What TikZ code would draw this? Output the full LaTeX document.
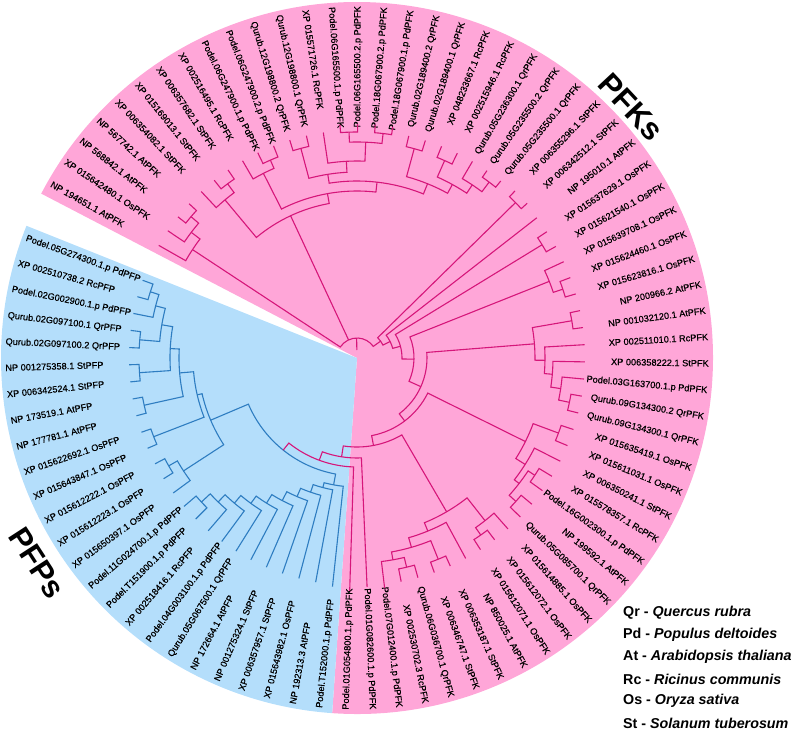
\documentclass[tikz,border=0pt]{standalone}
\usepackage{fontspec}
\setmainfont{Liberation Sans}
\newfontfamily\labfont{Liberation Sans}[FakeBold=0.5]
\definecolor{pkfill}{RGB}{255,166,216}
\definecolor{blfill}{RGB}{180,222,251}
\definecolor{pkline}{RGB}{214,22,122}
\definecolor{blline}{RGB}{46,125,193}
\tikzset{
 lab/.style={font=\labfont\fontsize{9.2}{10}\selectfont, inner sep=0pt, text=black},
 pk/.style={draw=pkline, line width=1.1pt},
 bl/.style={draw=blline, line width=1.1pt},
 leg/.style={font=\fontsize{14.3}{16}\selectfont\bfseries, anchor=west, inner sep=0pt},
 big/.style={font=\fontsize{31}{34}\selectfont\bfseries, inner sep=0pt}
}
\newcommand\lf[4]{%
  \pgfmathsetmacro\tzla{150.4-(#2-1)*4.325}%
  \expandafter\xdef\csname TA#1\endcsname{\tzla}%
  \expandafter\xdef\csname TR#1\endcsname{#3}%
  \ifdim\tzla pt<90pt
    \ifdim\tzla pt>-90pt
      \node[lab,rotate=\tzla,anchor=mid east] (#1) at (\tzla:352pt) {#4};
    \else
      \pgfmathsetmacro\tzlb{\tzla+180}%
      \node[lab,rotate=\tzlb,anchor=mid west] (#1) at (\tzla:352pt) {#4};
    \fi
  \else
    \pgfmathsetmacro\tzlb{\tzla+180}%
    \node[lab,rotate=\tzlb,anchor=mid west] (#1) at (\tzla:352pt) {#4};
  \fi
}
\newcommand\nd[5][pk]{%
  \edef\tzA{\csname TA#4\endcsname}\edef\tzB{\csname TA#5\endcsname}%
  \edef\tzRa{\csname TR#4\endcsname}\edef\tzRb{\csname TR#5\endcsname}%
  \pgfmathsetmacro\tzM{(\tzA+\tzB)/2}%
  \expandafter\xdef\csname TA#2\endcsname{\tzM}%
  \expandafter\xdef\csname TR#2\endcsname{#3}%
  \draw[#1] (\tzA:\tzRa pt) -- (\tzA:#3pt) arc[start angle=\tzA, end angle=\tzB, radius=#3pt] -- (\tzB:\tzRb pt);
}
\newcommand\mc[3][pk]{%
  \edef\tzA{\csname TA#3\endcsname}\edef\tzRa{\csname TR#3\endcsname}%
  \draw[#1] (\tzA:#2pt) -- (\tzA:\tzRa pt);
}
\begin{document}
\begin{tikzpicture}[x=1pt,y=1pt]
\useasboundingbox (-357,-374) rectangle (439,358);
\fill[pkfill] (0,0) -- (-94:356pt) arc[start angle=-94, end angle=152.5, radius=356pt] -- cycle;
\fill[blfill] (0,0) -- (158.2:356pt) arc[start angle=158.2, end angle=266, radius=356pt] -- cycle;
% leaves
\lf{L1}{1}{228}{NP 194651.1 AtPFK}
\lf{L2}{2}{228}{XP 015642480.1 OsPFK}
\lf{L3}{3}{228}{NP 568842.1 AtPFK}
\lf{L4}{4}{228}{NP 567742.1 AtPFK}
\lf{L5}{5}{228}{XP 006354082.1 StPFK}
\lf{L6}{6}{228}{XP 015169013.1 StPFK}
\lf{L7}{7}{228}{XP 006357682.1 StPFK}
\lf{L8}{8}{228}{XP 002516495.1 RcPFK}
\lf{L9}{9}{228}{Podel.06G247900.1.p PdPFK}
\lf{L10}{10}{228}{Podel.06G247900.2.p PdPFK}
\lf{L11}{11}{228}{Qurub.12G198800.2 QrPFK}
\lf{L12}{12}{228}{Qurub.12G198800.1 QrPFK}
\lf{L13}{13}{228}{XP 015571726.1 RcPFK}
\lf{L14}{14}{234}{Podel.06G165500.1.p PdPFK}
\lf{L15}{15}{234}{Podel.06G165500.2.p PdPFK}
\lf{L16}{16}{234}{Podel.18G067900.2.p PdPFK}
\lf{L17}{17}{234}{Podel.18G067900.1.p PdPFK}
\lf{L18}{18}{228}{Qurub.02G189400.2 QrPFK}
\lf{L19}{19}{228}{Qurub.02G189400.1 QrPFK}
\lf{L20}{20}{228}{XP 048233667.1 RcPFK}
\lf{L21}{21}{228}{XP 002515946.1 RcPFK}
\lf{L22}{22}{228}{Qurub.05G236300.1 QrPFK}
\lf{L23}{23}{228}{Qurub.05G235500.2 QrPFK}
\lf{L24}{24}{228}{Qurub.05G235500.1 QrPFK}
\lf{L25}{25}{230}{XP 006355296.1 StPFK}
\lf{L26}{26}{230}{XP 006342512.1 StPFK}
\lf{L27}{27}{228}{NP 195010.1 AtPFK}
\lf{L28}{28}{228}{XP 015637629.1 OsPFK}
\lf{L29}{29}{228}{XP 015621540.1 OsPFK}
\lf{L30}{30}{228}{XP 015639708.1 OsPFK}
\lf{L31}{31}{228}{XP 015624460.1 OsPFK}
\lf{L32}{32}{228}{XP 015623816.1 OsPFK}
\lf{L33}{33}{228}{NP 200966.2 AtPFK}
\lf{L34}{34}{228}{NP 001032120.1 AtPFK}
\lf{L35}{35}{228}{XP 002511010.1 RcPFK}
\lf{L36}{36}{228}{XP 006358222.1 StPFK}
\lf{L37}{37}{228}{Podel.03G163700.1.p PdPFK}
\lf{L38}{38}{228}{Qurub.09G134300.2 QrPFK}
\lf{L39}{39}{228}{Qurub.09G134300.1 QrPFK}
\lf{L40}{40}{228}{XP 015635419.1 OsPFK}
\lf{L41}{41}{228}{XP 015611031.1 OsPFK}
\lf{L42}{42}{228}{XP 006350241.1 StPFK}
\lf{L43}{43}{228}{XP 015578357.1 RcPFK}
\lf{L44}{44}{228}{Podel.16G002300.1.p PdPFK}
\lf{L45}{45}{228}{NP 199592.1 AtPFK}
\lf{L46}{46}{228}{Qurub.05G085700.1 QrPFK}
\lf{L47}{47}{228}{XP 015614885.1 OsPFK}
\lf{L48}{48}{228}{XP 015612072.1 OsPFK}
\lf{L49}{49}{228}{XP 015612071.1 OsPFK}
\lf{L50}{50}{228}{NP 850025.1 AtPFK}
\lf{L51}{51}{228}{XP 006353187.1 StPFK}
\lf{L52}{52}{228}{XP 006346747.1 StPFK}
\lf{L53}{53}{228}{Qurub.06G036700.1 QrPFK}
\lf{L54}{54}{228}{XP 002530702.3 RcPFK}
\lf{L55}{55}{232}{Podel.07G012400.1.p PdPFK}
\lf{L56}{56}{229}{Podel.01G082600.1.p PdPFK}
\lf{L57}{57}{233}{Podel.01G054800.1.p PdPFK}
\lf{L58}{58}{230}{Podel.T152000.1.p PdPFP}
\lf{L59}{59}{228}{NP 192313.3 AtPFP}
\lf{L60}{60}{228}{XP 015643982.1 OsPFP}
\lf{L61}{61}{228}{XP 006357957.1 StPFP}
\lf{L62}{62}{228}{NP 001275324.1 StPFP}
\lf{L63}{63}{228}{NP 172664.1 AtPFP}
\lf{L64}{64}{228}{Qurub.05G067500.1 QrPFP}
\lf{L65}{65}{228}{Podel.04G003100.1.p PdPFP}
\lf{L66}{66}{228}{XP 002518416.1 RcPFP}
\lf{L67}{67}{228}{Podel.T151900.1.p PdPFP}
\lf{L68}{68}{228}{Podel.11G024700.1.p PdPFP}
\lf{L69}{69}{228}{XP 015650397.1 OsPFP}
\lf{L70}{70}{228}{XP 015612223.1 OsPFP}
\lf{L71}{71}{228}{XP 015612222.1 OsPFP}
\lf{L72}{72}{228}{XP 015643847.1 OsPFP}
\lf{L73}{73}{228}{XP 015622692.1 OsPFP}
\lf{L74}{74}{228}{NP 177781.1 AtPFP}
\lf{L75}{75}{228}{NP 173519.1 AtPFP}
\lf{L76}{76}{228}{XP 006342524.1 StPFP}
\lf{L77}{77}{228}{NP 001275358.1 StPFP}
\lf{L78}{78}{228}{Qurub.02G097100.2 QrPFP}
\lf{L79}{79}{228}{Qurub.02G097100.1 QrPFP}
\lf{L80}{80}{228}{Podel.02G002900.1.p PdPFP}
\lf{L81}{81}{228}{XP 002510738.2 RcPFP}
\lf{L82}{82}{228}{Podel.05G274300.1.p PdPFP}
% clade A
\nd{N34}{218}{L3}{L4}
\nd{N24}{208}{L2}{N34}
\nd{A}{197}{L1}{N24}
% clade B
\nd{N67}{217}{L6}{L7}
\nd{N57}{206}{L5}{N67}
\nd{N910}{216}{L9}{L10}
\nd{N810}{207}{L8}{N910}
\nd{N1112}{217}{L11}{L12}
\nd{N1415}{226}{L14}{L15}
\nd{N1617}{226}{L16}{L17}
\nd{N1417}{216}{N1415}{N1617}
\nd{N1317}{197}{L13}{N1417}
\nd{N1117}{186}{N1112}{N1317}
\nd{N1819}{217}{L18}{L19}
\nd{N2021}{216}{L20}{L21}
\nd{N2324}{220}{L23}{L24}
\nd{N2224}{208}{L22}{N2324}
\nd{N2024}{198}{N2021}{N2224}
\nd{N1824}{188}{N1819}{N2024}
\nd{N1124}{177}{N1117}{N1824}
\nd{Y}{167}{N810}{N1124}
\nd{B}{157}{N57}{Y}
% right side clades
\nd{N2526}{222}{L25}{L26}
\nd{N2829}{217}{L28}{L29}
\nd{N3132}{217}{L31}{L32}
\nd{N3032}{207}{L30}{N3132}
\nd{N3334}{218}{L33}{L34}
\nd{N3839}{217}{L38}{L39}
\nd{N3739}{206}{L37}{N3839}
\nd{N3639}{196}{L36}{N3739}
\nd{N3539}{188}{L35}{N3639}
\nd{N3339}{178}{N3334}{N3539}
\nd{N4041}{215}{L40}{L41}
\nd{N4344}{213}{L43}{L44}
\nd{N4546}{214}{L45}{L46}
\nd{N4346}{205}{N4344}{N4546}
\nd{W}{199}{L42}{N4346}
\nd{N4046}{188}{N4041}{W}
\nd{N4849}{216}{L48}{L49}
\nd{Q1}{207}{L47}{N4849}
\nd{N5152}{217}{L51}{L52}
\nd{N5354}{215}{L53}{L54}
\nd{Q4}{205}{N5354}{L55}
\nd{Q3}{197}{N5152}{Q4}
\nd{Q2}{187}{L50}{Q3}
\nd{Q}{178}{Q1}{Q2}
% blue clade
\nd[bl]{b1}{217}{L81}{L82}
\nd[bl]{b2}{208}{L80}{b1}
\nd[bl]{b3}{218}{L78}{L79}
\nd[bl]{b4}{198}{b3}{b2}
\nd[bl]{b5}{218}{L76}{L77}
\nd[bl]{b6}{187}{b5}{b4}
\nd[bl]{b7}{218}{L74}{L75}
\nd[bl]{b8}{178}{b7}{b6}
\nd[bl]{b9}{218}{L72}{L73}
\nd[bl]{b10}{164}{b9}{b8}
\nd[bl]{b11}{217}{L70}{L71}
\nd[bl]{b12}{207}{L69}{b11}
\nd[bl]{b13}{159}{b12}{b10}
\nd[bl]{n67}{212}{L67}{L68}
\nd[bl]{n66}{200}{L66}{n67}
\nd[bl]{n65}{190}{L65}{n66}
\nd[bl]{n64}{180}{L64}{n65}
\nd[bl]{n63}{171}{L63}{n64}
\nd[bl]{n62}{161}{L62}{n63}
\nd[bl]{n61}{151}{L61}{n62}
\nd[bl]{n60}{142}{L60}{n61}
\nd[bl]{n59}{134}{L59}{n60}
\nd[bl]{n58}{129}{L58}{n59}
\nd[bl]{BR}{118}{n58}{b13}
% backbone
\nd{P1}{109}{L57}{BR}
\nd{P2}{100}{L56}{P1}
\nd{P3}{89}{Q}{P2}
\nd{R6}{79}{N4046}{P3}
\nd{R5}{70}{N3339}{R6}
\nd{R4}{57}{N3032}{R5}
\nd{R3}{45}{N2829}{R4}
\nd{R2}{37}{L27}{R3}
\nd{R}{29}{N2526}{R2}
\nd{root}{20}{A}{R}
\mc{20}{B}
\draw[pk] (\csname TAroot\endcsname:8pt) -- (\csname TAroot\endcsname:20pt);
% legend and clade names
\node[leg] (lg1) at (266,-255) {Qr - \textit{Quercus rubra}};
\node[leg] (lg2) at (266,-277) {Pd - \textit{Populus deltoides}};
\node[leg] (lg3) at (266,-299) {At - \textit{Arabidopsis thaliana}};
\node[leg] (lg4) at (266,-321) {Rc - \textit{Ricinus communis}};
\node[leg] (lg5) at (266,-343) {Os - \textit{Oryza sativa}};
\node[leg] (lg6) at (266,-365) {St - \textit{Solanum tuberosum}};
\node[big, rotate=-47] (pfks) at (274,251) {PFKs};
\node[big, rotate=-57] (pfps) at (-320,-205) {PFPs};
\end{tikzpicture}
\end{document}
